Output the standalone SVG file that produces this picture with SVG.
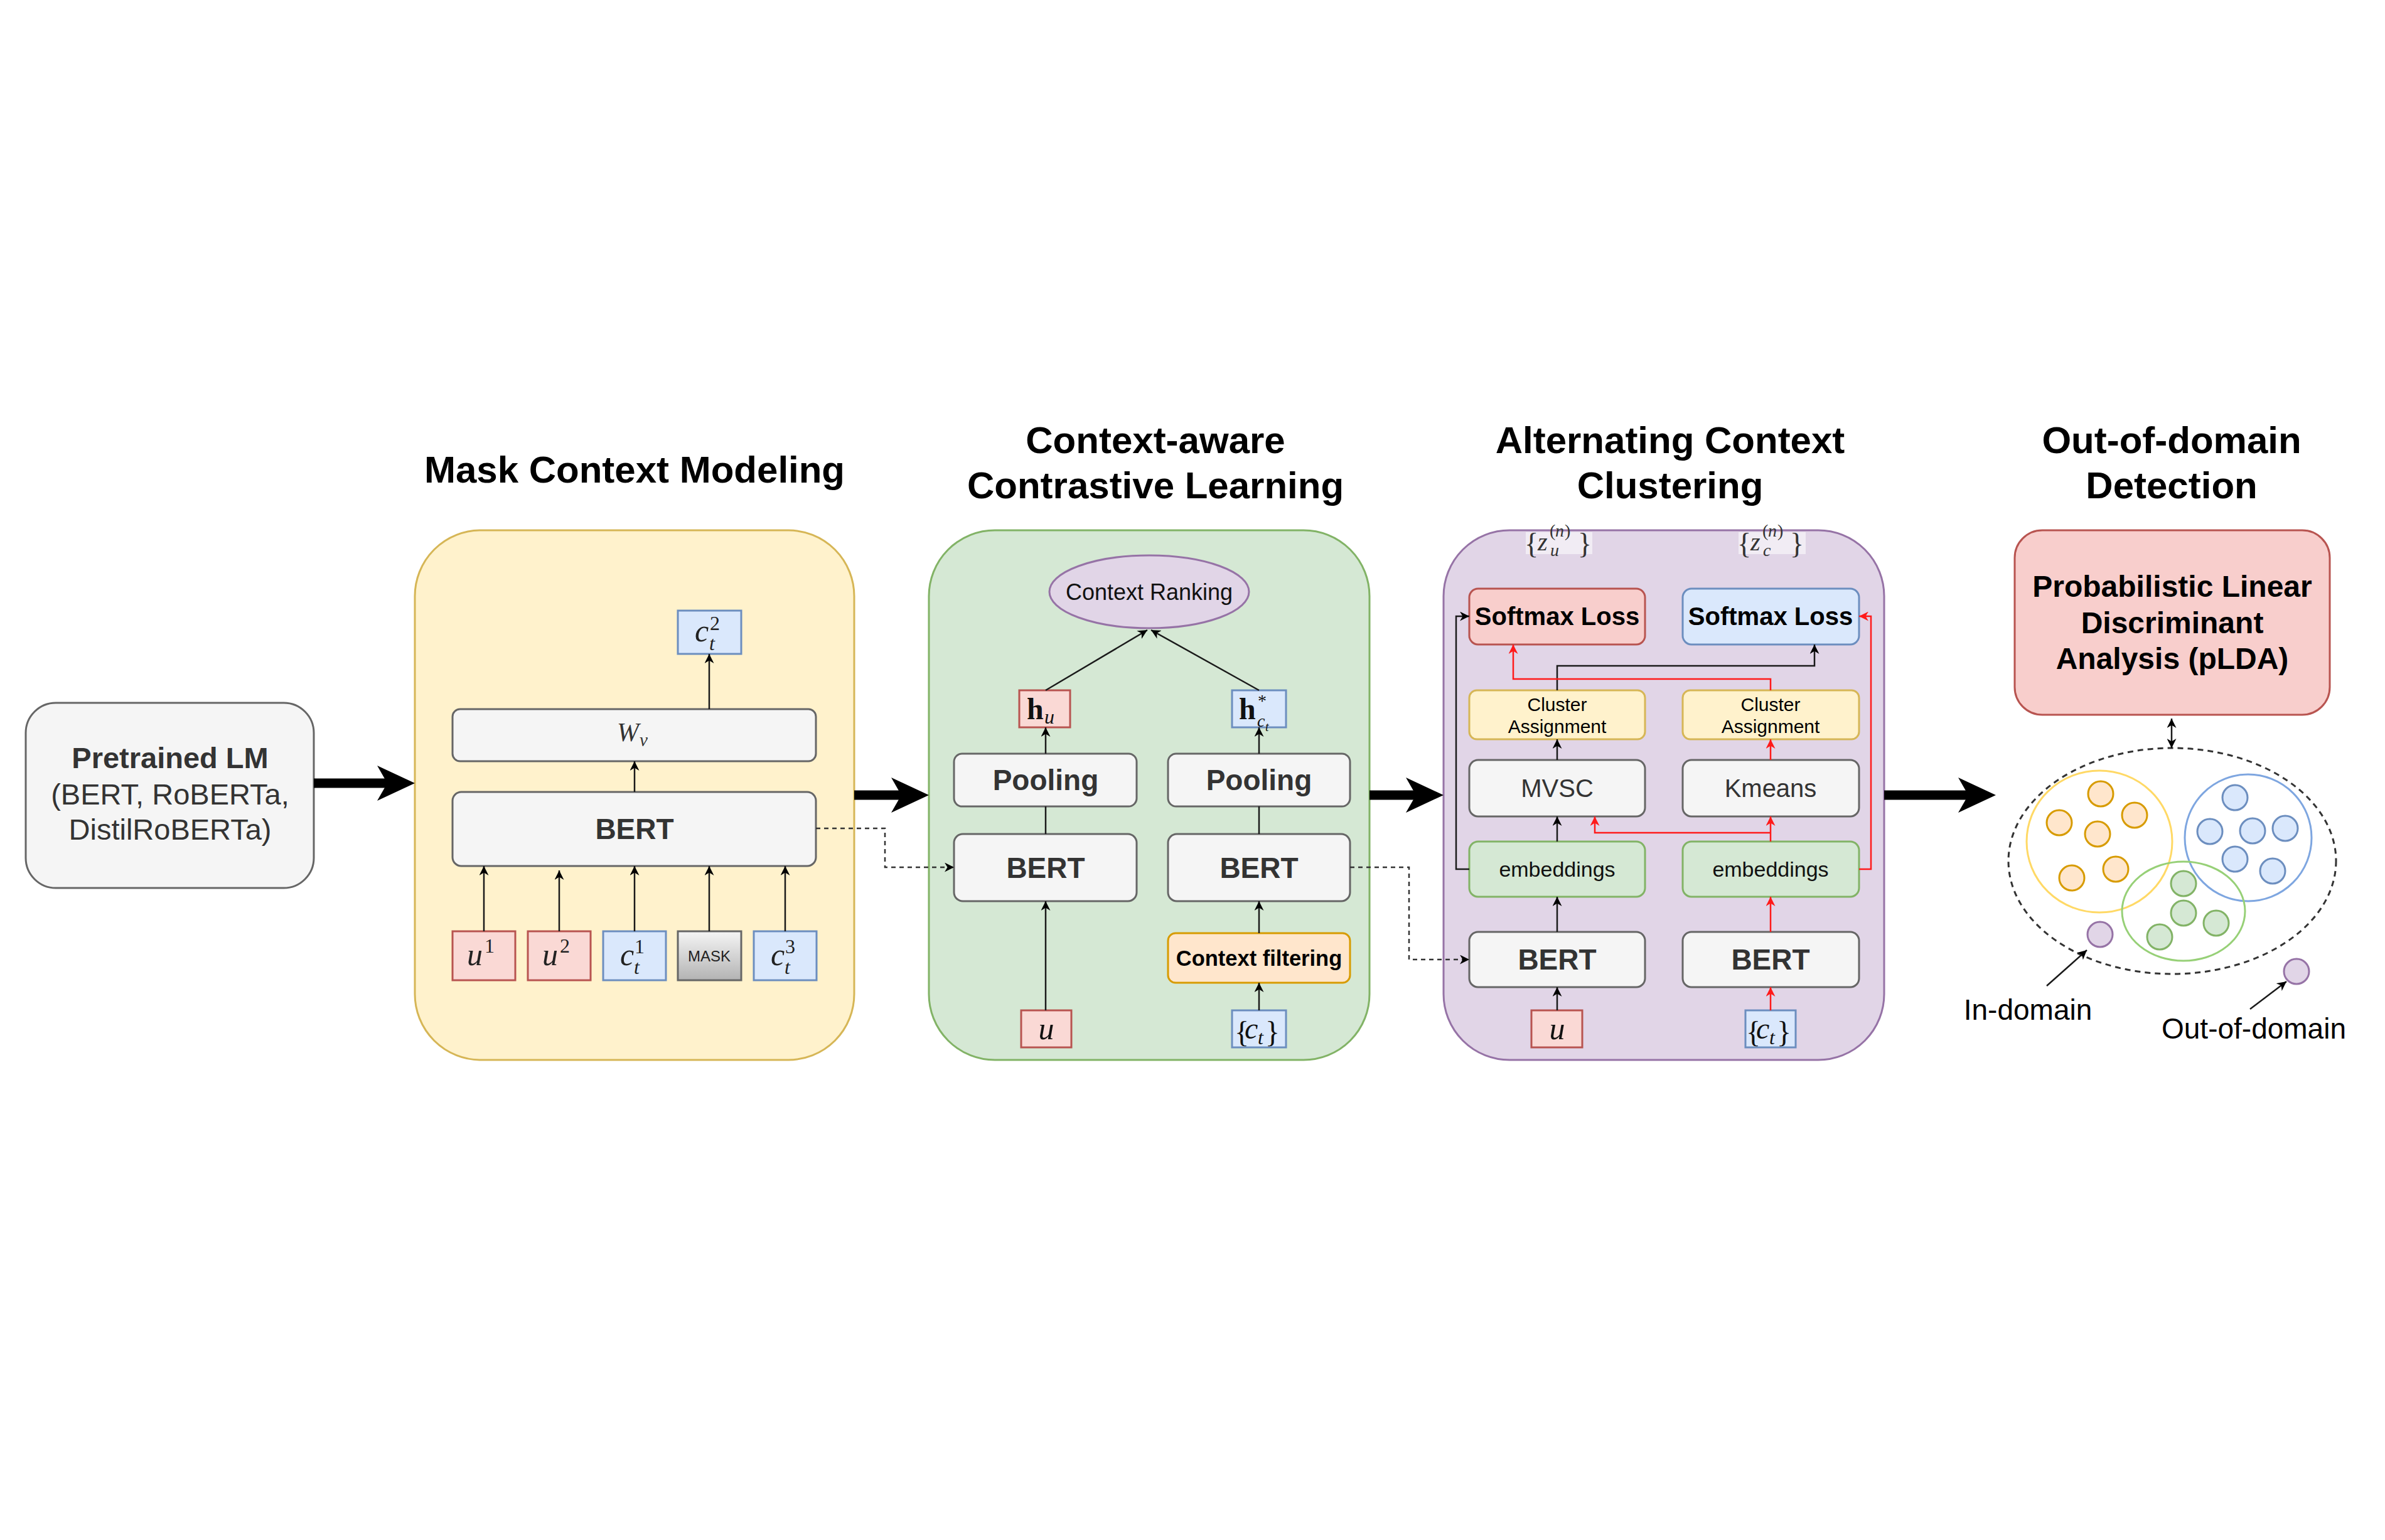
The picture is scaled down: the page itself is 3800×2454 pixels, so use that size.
<svg xmlns="http://www.w3.org/2000/svg" width="3800" height="2454" viewBox="0 0 3800 2454">
<defs>
<style>
.s{font-family:"Liberation Sans",Arial,sans-serif}
.m{font-family:"Liberation Serif","DejaVu Serif",serif}
.i{font-style:italic}
.title{font-size:60px;font-weight:bold;text-anchor:middle;fill:#000}
.bert{font-size:46px;font-weight:bold;fill:#333;text-anchor:middle}
.gray{fill:#f5f5f5;stroke:#666;stroke-width:3}
.red{fill:#f8cecc;stroke:#b85450;stroke-width:3}
.redt{fill:#fad9d5;stroke:#b85450;stroke-width:3}
.blue{fill:#dae8fc;stroke:#6c8ebf;stroke-width:3}
.yel{fill:#fff2cc;stroke:#d6b656;stroke-width:3}
.grn{fill:#d5e8d4;stroke:#82b366;stroke-width:3}
.org{fill:#ffe6cc;stroke:#d79b00;stroke-width:3}
.pur{fill:#e1d5e7;stroke:#9673a6;stroke-width:3}
.ln{fill:none;stroke:#1a1a1a;stroke-width:2.5}
.lnr{fill:none;stroke:#ff1a1a;stroke-width:2.5}
.dash{fill:none;stroke:#333;stroke-width:2.5;stroke-dasharray:7 6}
.arr{marker-end:url(#ah)}
.arrr{marker-end:url(#ahr)}
.thick{stroke:#000;stroke-width:15;fill:none}
</style>
<marker id="ah" viewBox="0 0 10 10" refX="10" refY="5" markerWidth="15" markerHeight="15" markerUnits="userSpaceOnUse" orient="auto-start-reverse"><path d="M0,0 L10,5 L0,10 L3,5 z" fill="#000"/></marker>
<marker id="ahr" viewBox="0 0 10 10" refX="10" refY="5" markerWidth="15" markerHeight="15" markerUnits="userSpaceOnUse" orient="auto"><path d="M0,0 L10,5 L0,10 L3,5 z" fill="#ff1a1a"/></marker>
<linearGradient id="maskg" x1="0" y1="0" x2="0" y2="1"><stop offset="0" stop-color="#f5f5f5"/><stop offset="1" stop-color="#b3b3b3"/></linearGradient>
</defs>
<rect width="3800" height="2454" fill="#fff"/>

<!-- Titles -->
<g id="titles" class="s title">
<text x="1011" y="769">Mask Context Modeling</text>
<text x="1841" y="722">Context-aware</text>
<text x="1841" y="794">Contrastive Learning</text>
<text x="2661" y="722">Alternating Context</text>
<text x="2661" y="794">Clustering</text>
<text x="3460" y="722">Out-of-domain</text>
<text x="3460" y="794">Detection</text>
</g>

<!-- Panels -->
<g id="panel-mcm"><rect x="661" y="845" width="700" height="844" rx="105" fill="#fff2cc" stroke="#d6b656" stroke-width="3"/></g>
<g id="panel-ccl"><rect x="1480" y="845" width="702" height="844" rx="105" fill="#d5e8d4" stroke="#82b366" stroke-width="3"/></g>
<g id="panel-acc"><rect x="2300" y="845" width="702" height="844" rx="105" fill="#e1d5e7" stroke="#9673a6" stroke-width="3"/></g>

<!-- Pretrained LM -->
<g id="pretrained-lm">
<rect x="41" y="1120" width="459" height="295" rx="48" class="gray"/>
<text class="s" x="271" y="1224" text-anchor="middle" font-size="47" font-weight="bold" fill="#333">Pretrained LM</text>
<text class="s" x="271" y="1282" text-anchor="middle" font-size="47" fill="#333">(BERT, RoBERTa,</text>
<text class="s" x="271" y="1338" text-anchor="middle" font-size="47" fill="#333">DistilRoBERTa)</text>
</g>

<!-- Mask context modeling nodes -->
<g id="mcm-wv"><rect x="721" y="1130" width="579" height="83" rx="12" class="gray"/>
<text class="m" fill="#333"><tspan class="i" x="983" y="1181" font-size="42">W</tspan><tspan class="i" x="1019" y="1189" font-size="29">v</tspan></text></g>
<g id="mcm-bert"><rect x="721" y="1262" width="579" height="118" rx="14" class="gray"/>
<text class="s bert" x="1011" y="1337">BERT</text></g>
<g id="mcm-ct2"><rect x="1080" y="973" width="101" height="69" class="blue"/>
<text class="m" fill="#222"><tspan class="i" x="1107" y="1022" font-size="50">c</tspan><tspan class="i" x="1130" y="1036" font-size="32">t</tspan><tspan x="1131" y="1004" font-size="32">2</tspan></text></g>
<g id="mcm-u1"><rect x="721" y="1484" width="100" height="78" class="redt"/>
<text class="m" fill="#222"><tspan class="i" x="744" y="1538" font-size="50">u</tspan><tspan x="772" y="1518" font-size="32">1</tspan></text></g>
<g id="mcm-u2"><rect x="841" y="1484" width="100" height="78" class="redt"/>
<text class="m" fill="#222"><tspan class="i" x="864" y="1538" font-size="50">u</tspan><tspan x="892" y="1518" font-size="32">2</tspan></text></g>
<g id="mcm-ct1"><rect x="961" y="1484" width="100" height="78" class="blue"/>
<text class="m" fill="#222"><tspan class="i" x="988" y="1538" font-size="50">c</tspan><tspan class="i" x="1010" y="1552" font-size="32">t</tspan><tspan x="1011" y="1519" font-size="32">1</tspan></text></g>
<g id="mcm-mask"><rect x="1080" y="1484" width="101" height="78" fill="url(#maskg)" stroke="#666" stroke-width="3"/>
<text class="s" x="1130" y="1532" text-anchor="middle" font-size="24" fill="#222">MASK</text></g>
<g id="mcm-ct3"><rect x="1201" y="1484" width="100" height="78" class="blue"/>
<text class="m" fill="#222"><tspan class="i" x="1228" y="1538" font-size="50">c</tspan><tspan class="i" x="1250" y="1552" font-size="32">t</tspan><tspan x="1251" y="1519" font-size="32">3</tspan></text></g>

<!-- Contrastive learning nodes -->
<g id="ccl-ranking"><ellipse cx="1831" cy="943" rx="159" ry="58" class="pur"/>
<text class="s" x="1831" y="956" text-anchor="middle" font-size="36" fill="#111">Context Ranking</text></g>
<g id="ccl-hu"><rect x="1624" y="1100" width="81" height="59" class="redt"/>
<text class="m" fill="#111"><tspan x="1636" y="1146" font-size="48" font-weight="bold">h</tspan><tspan class="i" x="1664" y="1153" font-size="32">u</tspan></text></g>
<g id="ccl-hc"><rect x="1963" y="1100" width="86" height="59" class="blue"/>
<text class="m" fill="#111"><tspan x="1974" y="1146" font-size="48" font-weight="bold">h</tspan><tspan x="2004" y="1126" font-size="28">*</tspan><tspan class="i" x="2003" y="1158" font-size="28">c</tspan><tspan class="i" x="2016" y="1165" font-size="20">t</tspan></text></g>
<g id="ccl-pool-l"><rect x="1520" y="1201" width="291" height="84" rx="13" class="gray"/>
<text class="s bert" x="1666" y="1259">Pooling</text></g>
<g id="ccl-pool-r"><rect x="1861" y="1201" width="290" height="84" rx="13" class="gray"/>
<text class="s bert" x="2006" y="1259">Pooling</text></g>
<g id="ccl-bert-l"><rect x="1520" y="1329" width="291" height="107" rx="14" class="gray"/>
<text class="s bert" x="1666" y="1399">BERT</text></g>
<g id="ccl-bert-r"><rect x="1861" y="1329" width="290" height="107" rx="14" class="gray"/>
<text class="s bert" x="2006" y="1399">BERT</text></g>
<g id="ccl-filter"><rect x="1861" y="1487" width="290" height="79" rx="12" class="org"/>
<text class="s" x="2006" y="1539" text-anchor="middle" font-size="34.5" font-weight="bold" fill="#000">Context filtering</text></g>
<g id="ccl-u"><rect x="1627" y="1610" width="80" height="59" class="redt"/>
<text class="m i" x="1667" y="1656" text-anchor="middle" font-size="50" fill="#111">u</text></g>
<g id="ccl-ct"><rect x="1963" y="1610" width="86" height="59" class="blue"/>
<text class="m" fill="#111" font-size="48"><tspan x="1967" y="1661">{</tspan><tspan class="i" x="1983" y="1655">c</tspan><tspan class="i" x="2004" y="1664" font-size="32">t</tspan><tspan x="2016" y="1661">}</tspan></text></g>

<!-- Alternating clustering nodes -->
<g id="acc-zu"><rect x="2431" y="848" width="106" height="35" fill="#fff" fill-opacity="0.55"/>
<text class="m" fill="#333"><tspan x="2429" y="882" font-size="46">{</tspan><tspan class="i" x="2450" y="877" font-size="40">z</tspan><tspan class="i" x="2470" y="886" font-size="28">u</tspan><tspan x="2469" y="855" font-size="28">(</tspan><tspan class="i" x="2478" y="855" font-size="28">n</tspan><tspan x="2493" y="855" font-size="28">)</tspan><tspan x="2514" y="882" font-size="46">}</tspan></text></g>
<g id="acc-zc"><rect x="2770" y="848" width="107" height="35" fill="#fff" fill-opacity="0.55"/>
<text class="m" fill="#333"><tspan x="2768" y="882" font-size="46">{</tspan><tspan class="i" x="2789" y="877" font-size="40">z</tspan><tspan class="i" x="2809" y="886" font-size="28">c</tspan><tspan x="2808" y="855" font-size="28">(</tspan><tspan class="i" x="2817" y="855" font-size="28">n</tspan><tspan x="2832" y="855" font-size="28">)</tspan><tspan x="2852" y="882" font-size="46">}</tspan></text></g>
<g id="acc-loss-l"><rect x="2341" y="938" width="280" height="89" rx="14" class="red"/>
<text class="s" x="2481" y="996" text-anchor="middle" font-size="40" font-weight="bold" fill="#000">Softmax Loss</text></g>
<g id="acc-loss-r"><rect x="2681" y="938" width="281" height="89" rx="14" class="blue"/>
<text class="s" x="2821" y="996" text-anchor="middle" font-size="40" font-weight="bold" fill="#000">Softmax Loss</text></g>
<g id="acc-ca-l"><rect x="2341" y="1100" width="280" height="78" rx="12" class="yel"/>
<text class="s" text-anchor="middle" font-size="30" fill="#000"><tspan x="2481" y="1133">Cluster</tspan><tspan x="2481" y="1168">Assignment</tspan></text></g>
<g id="acc-ca-r"><rect x="2681" y="1100" width="281" height="78" rx="12" class="yel"/>
<text class="s" text-anchor="middle" font-size="30" fill="#000"><tspan x="2821" y="1133">Cluster</tspan><tspan x="2821" y="1168">Assignment</tspan></text></g>
<g id="acc-mvsc"><rect x="2341" y="1211" width="280" height="90" rx="14" class="gray"/>
<text class="s" x="2481" y="1270" text-anchor="middle" font-size="40" fill="#333">MVSC</text></g>
<g id="acc-kmeans"><rect x="2681" y="1211" width="281" height="90" rx="14" class="gray"/>
<text class="s" x="2821" y="1270" text-anchor="middle" font-size="40" fill="#333">Kmeans</text></g>
<g id="acc-emb-l"><rect x="2341" y="1341" width="280" height="88" rx="14" class="grn"/>
<text class="s" x="2481" y="1397" text-anchor="middle" font-size="34" fill="#111">embeddings</text></g>
<g id="acc-emb-r"><rect x="2681" y="1341" width="281" height="88" rx="14" class="grn"/>
<text class="s" x="2821" y="1397" text-anchor="middle" font-size="34" fill="#111">embeddings</text></g>
<g id="acc-bert-l"><rect x="2341" y="1485" width="280" height="88" rx="14" class="gray"/>
<text class="s bert" x="2481" y="1545">BERT</text></g>
<g id="acc-bert-r"><rect x="2681" y="1485" width="281" height="88" rx="14" class="gray"/>
<text class="s bert" x="2821" y="1545">BERT</text></g>
<g id="acc-u"><rect x="2440" y="1610" width="81" height="59" class="redt"/>
<text class="m i" x="2481" y="1656" text-anchor="middle" font-size="50" fill="#111">u</text></g>
<g id="acc-ct"><rect x="2781" y="1610" width="80" height="59" class="blue"/>
<text class="m" fill="#111" font-size="48"><tspan x="2782" y="1661">{</tspan><tspan class="i" x="2798" y="1655">c</tspan><tspan class="i" x="2819" y="1664" font-size="32">t</tspan><tspan x="2831" y="1661">}</tspan></text></g>

<!-- OOD detection -->
<g id="ood-plda"><rect x="3210" y="845" width="502" height="294" rx="44" class="red"/>
<text class="s" text-anchor="middle" font-size="48" font-weight="bold" fill="#000"><tspan x="3461" y="951">Probabilistic Linear</tspan><tspan x="3461" y="1009">Discriminant</tspan><tspan x="3461" y="1066">Analysis (pLDA)</tspan></text></g>
<g id="ood-space">
<ellipse cx="3461" cy="1372" rx="261" ry="180" fill="none" stroke="#333" stroke-width="3" stroke-dasharray="9 7"/>
<ellipse cx="3345" cy="1341" rx="116" ry="113" fill="none" stroke="#ffd966" stroke-width="3"/>
<ellipse cx="3582" cy="1335" rx="101" ry="101" fill="none" stroke="#7ea6e0" stroke-width="3"/>
<ellipse cx="3479" cy="1452" rx="98" ry="79" fill="none" stroke="#97d077" stroke-width="3"/>
<g class="org">
<circle cx="3347" cy="1265" r="20"/><circle cx="3281" cy="1311" r="20"/><circle cx="3401" cy="1299" r="20"/>
<circle cx="3342" cy="1329" r="20"/><circle cx="3301" cy="1399" r="20"/><circle cx="3371" cy="1385" r="20"/>
</g>
<g class="blue">
<circle cx="3561" cy="1271" r="20"/><circle cx="3521" cy="1325" r="20"/><circle cx="3589" cy="1324" r="20"/>
<circle cx="3641" cy="1320" r="20"/><circle cx="3561" cy="1369" r="20"/><circle cx="3621" cy="1388" r="20"/>
</g>
<g class="grn">
<circle cx="3479" cy="1408" r="20"/><circle cx="3479" cy="1455" r="20"/><circle cx="3531" cy="1471" r="20"/><circle cx="3441" cy="1493" r="20"/>
</g>
<g class="pur"><circle cx="3346" cy="1489" r="20"/><circle cx="3659" cy="1548" r="20"/></g>
<text class="s" x="3231" y="1625" text-anchor="middle" font-size="46" fill="#000">In-domain</text>
<text class="s" x="3591" y="1655" text-anchor="middle" font-size="46" fill="#000">Out-of-domain</text>
</g>

<!-- Connectors -->
<g id="connectors">
<path class="thick" d="M500,1248 H625"/><path d="M661,1248 L601,1220 L617,1248 L601,1276 Z" fill="#000"/>
<path class="thick" d="M1361,1267 H1445"/><path d="M1480,1267 L1420,1239 L1436,1267 L1420,1295 Z" fill="#000"/>
<path class="thick" d="M2182,1267 H2265"/><path d="M2300,1267 L2240,1239 L2256,1267 L2240,1295 Z" fill="#000"/>
<path class="thick" d="M3002,1267 H3145"/><path d="M3180,1267 L3120,1239 L3136,1267 L3120,1295 Z" fill="#000"/>

<path class="ln arr" d="M771,1484 V1380"/>
<path class="ln arr" d="M891,1484 V1387"/>
<path class="ln arr" d="M1011,1484 V1380"/>
<path class="ln arr" d="M1130,1484 V1380"/>
<path class="ln arr" d="M1251,1484 V1380"/>
<path class="ln arr" d="M1011,1262 V1213"/>
<path class="ln arr" d="M1130,1130 V1042"/>
<path class="dash arr" d="M1300,1320 H1410 V1382 H1520"/>

<path class="ln arr" d="M1666,1610 V1436"/>
<path class="ln" d="M1666,1329 V1285"/>
<path class="ln arr" d="M1666,1201 V1159"/>
<path class="ln arr" d="M1666,1100 L1828,1004"/>
<path class="ln arr" d="M2006,1610 V1566"/>
<path class="ln arr" d="M2006,1487 V1436"/>
<path class="ln" d="M2006,1329 V1285"/>
<path class="ln arr" d="M2006,1201 V1159"/>
<path class="ln arr" d="M2006,1100 L1834,1004"/>
<path class="dash arr" d="M2151,1382 H2245 V1529 H2341"/>

<path class="ln arr" d="M2481,1610 V1573"/>
<path class="ln arr" d="M2481,1485 V1429"/>
<path class="ln arr" d="M2481,1341 V1301"/>
<path class="ln arr" d="M2481,1211 V1178"/>
<path class="ln arr" d="M2481,1100 V1061 H2891 V1027"/>
<path class="ln arr" d="M2341,1385 H2320 V982 H2341"/>
<path class="lnr arrr" d="M2821,1610 V1573"/>
<path class="lnr arrr" d="M2821,1485 V1429"/>
<path class="lnr arrr" d="M2821,1341 V1301"/>
<path class="lnr arrr" d="M2821,1327 H2541 V1301"/>
<path class="lnr arrr" d="M2821,1211 V1178"/>
<path class="lnr arrr" d="M2821,1100 V1082 H2411 V1027"/>
<path class="lnr arrr" d="M2962,1385 H2981 V982 H2962"/>

<path class="ln arr" d="M3460,1145 V1192" marker-start="url(#ah)"/>
<path class="ln arr" d="M3261,1571 L3325,1514"/>
<path class="ln arr" d="M3585,1608 L3643,1564"/>
</g>
</svg>
